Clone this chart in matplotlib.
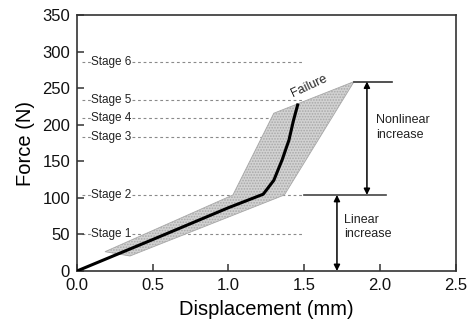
import numpy as np
import matplotlib
matplotlib.use('Agg')
from matplotlib import pyplot as plt
from matplotlib.patches import Polygon

plt.rcParams['font.family'] = ['Liberation Sans', 'DejaVu Sans']
plt.rcParams['hatch.linewidth'] = 0.8

# stage levels (N)
stage_labels = ['Stage 1', 'Stage 2', 'Stage 3', 'Stage 4', 'Stage 5', 'Stage 6']
stage_forces = [50, 104, 183, 209, 234, 286]

# mean force-displacement curve
mean_disp = [0.0, 0.5, 1.0, 1.23, 1.30, 1.355, 1.40, 1.43, 1.46]
mean_force = [0, 43, 86.5, 105, 124, 152, 179, 206, 229]

# scatter band (polygon outline)
band_disp = [0.185, 1.03, 1.30, 1.83, 1.37, 0.35]
band_force = [26.4, 104, 215.7, 259, 104, 20.5]

# level markers
linear_top = 104
failure_force = 259


def build_base_figure():
    fig = plt.figure(figsize=(4.68, 3.30), dpi=100)
    ax = fig.add_axes([0.1645, 0.1788, 0.8088, 0.7757])
    for s in ax.spines.values():
        s.set_color('#333333')
        s.set_linewidth(1.2)
    ax.tick_params(axis='both', which='both', direction='in', length=5,
                   width=1.1, color='#333333', labelsize=12,
                   labelcolor='#111111', top=False, right=False, pad=5)
    return fig, ax


fig, ax = build_base_figure()

# stage dashed lines with labels
for lab, f in zip(stage_labels, stage_forces):
    ax.plot([0.03, 1.5], [f, f], ls=(0, (2.5, 2.5)), color='#8a8a8a',
            lw=0.8, zorder=1)
    ax.text(0.095, f, lab, fontsize=8.5, va='center', ha='left',
            color='#222222', zorder=2,
            bbox=dict(facecolor='white', edgecolor='none', pad=0.5))

# scatter band
poly = Polygon(list(zip(band_disp, band_force)), closed=True,
               facecolor='#d2d2d2', edgecolor='#a8a8a8', hatch='......',
               lw=0.6, zorder=3)
ax.add_patch(poly)

# mean curve
ax.plot(mean_disp, mean_force, color='black', lw=2.2, zorder=4,
        solid_capstyle='butt')

# horizontal reference lines
ax.plot([1.5, 2.04], [linear_top, linear_top], color='#444444', lw=1.2, zorder=4)
ax.plot([1.83, 2.08], [failure_force, failure_force], color='#333333', lw=1.2,
        zorder=4)

# double arrows
arrow_kw = dict(arrowstyle='<|-|>', color='black', lw=1.1,
                mutation_scale=9, shrinkA=0, shrinkB=0)
ax.annotate('', xy=(1.915, linear_top), xytext=(1.915, failure_force),
            arrowprops=arrow_kw, zorder=5)
ax.annotate('', xy=(1.717, 0), xytext=(1.717, linear_top),
            arrowprops=arrow_kw, zorder=5)

ax.text(1.975, 196, 'Nonlinear\nincrease', fontsize=9, va='center',
        ha='left', color='#222222', linespacing=1.3)
ax.text(1.765, 60, 'Linear\nincrease', fontsize=9, va='center',
        ha='left', color='#222222', linespacing=1.3)
ax.text(1.53, 253, 'Failure', fontsize=9, rotation=25, ha='center',
        va='center', color='#222222')

ax.set_xlim(0, 2.5)
ax.set_ylim(0, 350)
ax.set_xticks(np.arange(0, 2.51, 0.5))
ax.set_yticks(np.arange(0, 351, 50))
ax.set_xticklabels(['0.0', '0.5', '1.0', '1.5', '2.0', '2.5'])
ax.set_xlabel('Displacement (mm)', fontsize=14.5, labelpad=5)
ax.set_ylabel('Force (N)', fontsize=14.5, labelpad=5)

plt.savefig('out.png', dpi=100)
